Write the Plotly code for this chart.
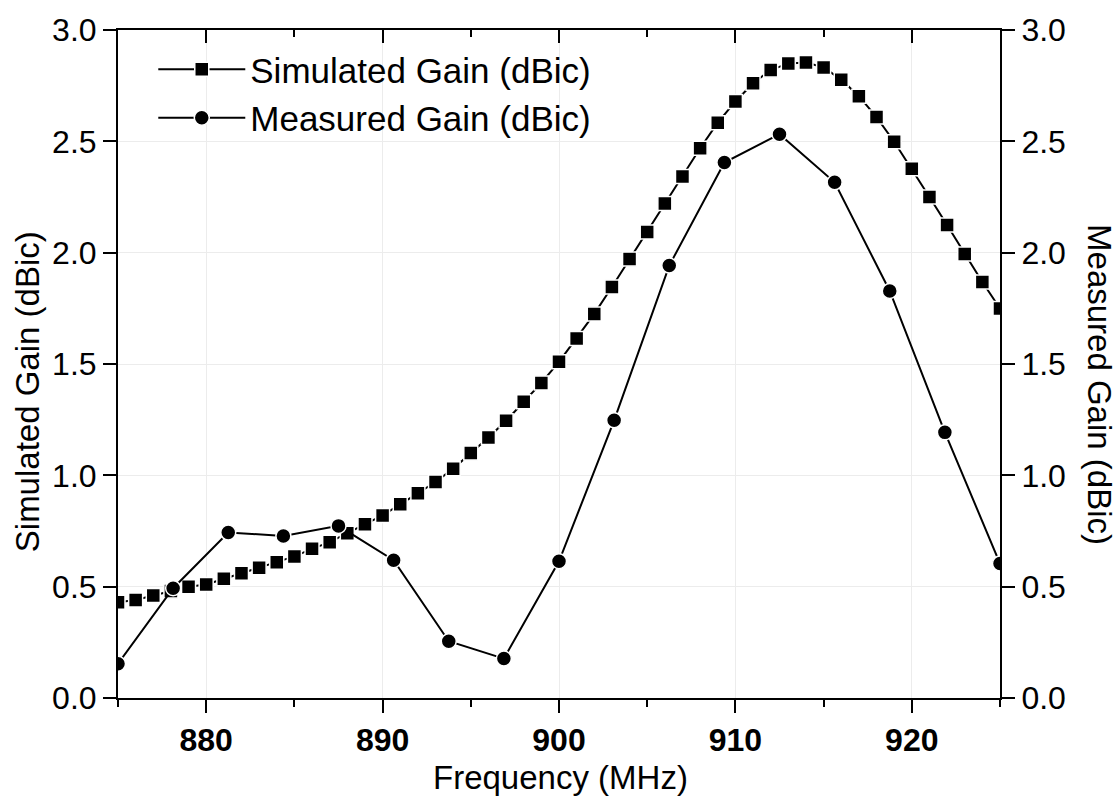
import plotly.graph_objects as go

sim_freq = [875, 876, 877, 878, 879, 880, 881, 882, 883, 884, 885, 886, 887, 888, 889,
            890, 891, 892, 893, 894, 895, 896, 897, 898, 899, 900, 901, 902, 903, 904,
            905, 906, 907, 908, 909, 910, 911, 912, 913, 914, 915, 916, 917, 918, 919,
            920, 921, 922, 923, 924, 925]
sim_gain = [0.43, 0.44, 0.46, 0.48, 0.50, 0.51, 0.535, 0.56, 0.585, 0.61, 0.636, 0.67, 0.70,
            0.74, 0.78, 0.82, 0.87, 0.92, 0.97, 1.03, 1.10, 1.17, 1.245, 1.33, 1.415, 1.51,
            1.615, 1.725, 1.846, 1.971, 2.093, 2.221, 2.342, 2.469, 2.584, 2.679, 2.761,
            2.82, 2.85, 2.854, 2.832, 2.777, 2.703, 2.609, 2.498, 2.377, 2.25, 2.124,
            1.994, 1.868, 1.749]

meas_freq = [875, 878.125, 881.25, 884.375, 887.5, 890.625, 893.75, 896.875, 900,
             903.125, 906.25, 909.375, 912.5, 915.625, 918.75, 921.875, 925]
meas_gain = [0.154, 0.493, 0.743, 0.728, 0.773, 0.619, 0.255, 0.177, 0.614, 1.247,
             1.942, 2.405, 2.532, 2.316, 1.828, 1.193, 0.604]

x_ticks = [880, 890, 900, 910, 920]
y_ticks = [0.0, 0.5, 1.0, 1.5, 2.0, 2.5, 3.0]

FONT = "Liberation Sans, Arial, sans-serif"

fig = go.Figure()
fig.add_trace(go.Scatter(
    x=sim_freq, y=sim_gain, name="Simulated Gain (dBic)", mode="lines+markers",
    line=dict(color="black", width=2),
    marker=dict(symbol="square", size=14, color="black", line=dict(color="white", width=1.5)),
))
fig.add_trace(go.Scatter(
    x=meas_freq, y=meas_gain, name="Measured Gain (dBic)", mode="lines+markers",
    yaxis="y2",
    line=dict(color="black", width=2),
    marker=dict(symbol="circle", size=15, color="black", line=dict(color="white", width=1.5)),
))
# invisible trace to activate top mirror axis
fig.add_trace(go.Scatter(x=[sim_freq[0]], y=[sim_gain[0]], xaxis="x2", mode="markers",
                         marker=dict(opacity=0), showlegend=False, hoverinfo="skip"))

common_x = dict(range=[875, 925], tickvals=x_ticks, showline=True, linecolor="black",
                linewidth=2, zeroline=False)

fig.update_layout(
    width=1120, height=798,
    margin=dict(l=118, r=120, t=24, b=100),
    paper_bgcolor="white", plot_bgcolor="white",
    font=dict(family=FONT, color="black"),
    xaxis=dict(**common_x, ticks="outside", ticklen=13, tickwidth=2, tickcolor="black",
               showgrid=True, gridcolor="#ececec", gridwidth=1,
               tickfont=dict(size=32, family=FONT, weight="bold"),
               minor=dict(dtick=5, tick0=875, ticks="outside", ticklen=7, tickwidth=2,
                          tickcolor="black", showgrid=False)),
    xaxis2=dict(**common_x, overlaying="x", side="top", ticks="inside", ticklen=13,
                tickwidth=2, tickcolor="black", showticklabels=False, showgrid=False,
                minor=dict(dtick=5, tick0=875, ticks="inside", ticklen=7, tickwidth=2,
                           tickcolor="black", showgrid=False)),
    yaxis=dict(range=[0, 3], tickvals=y_ticks, ticktext=[f"{v:.1f}" for v in y_ticks],
               showline=True, linecolor="black", linewidth=2, zeroline=False,
               ticks="outside", ticklen=13, tickwidth=2, tickcolor="black",
               showgrid=True, gridcolor="#ececec", gridwidth=1,
               tickfont=dict(size=32, family=FONT)),
    yaxis2=dict(range=[0, 3], tickvals=y_ticks, ticktext=[f"{v:.1f}" for v in y_ticks],
                overlaying="y", side="right",
                showline=True, linecolor="black", linewidth=2, zeroline=False,
                ticks="outside", ticklen=13, tickwidth=2, tickcolor="black",
                showgrid=False, tickfont=dict(size=32, family=FONT)),
    legend=dict(x=0.040, y=0.985, xanchor="left", yanchor="top", bgcolor="rgba(0,0,0,0)",
                font=dict(size=35, family=FONT), itemwidth=87, tracegroupgap=0),
    showlegend=True,
    annotations=[
        dict(text="Frequency (MHz)", xref="paper", yref="paper", x=0.502, y=-0.119,
             xanchor="center", yanchor="middle", showarrow=False,
             font=dict(size=33, family=FONT)),
        dict(text="Simulated Gain (dBic)", xref="paper", yref="paper", x=-0.103, y=0.458,
             xanchor="center", yanchor="middle", showarrow=False, textangle=-90,
             font=dict(size=33, family=FONT)),
        dict(text="Measured Gain (dBic)", xref="paper", yref="paper", x=1.113, y=0.469,
             xanchor="center", yanchor="middle", showarrow=False, textangle=90,
             font=dict(size=33, family=FONT)),
    ],
)

fig.write_html("out.html")
